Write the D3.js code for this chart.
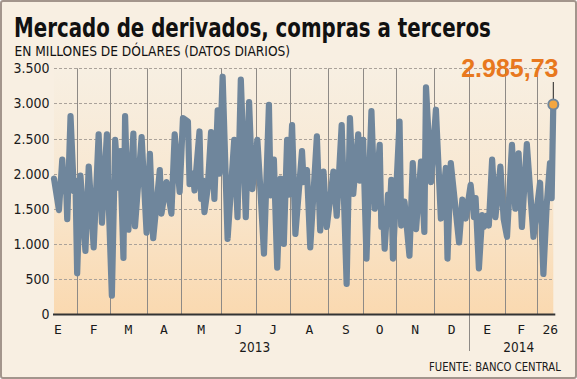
<!DOCTYPE html>
<html>
<head>
<meta charset="utf-8">
<script src="https://cdn.jsdelivr.net/npm/d3@7"></script>
<style>
  body { margin: 0; background: #fff; }
  svg { display: block; }
</style>
</head>
<body>
<div id="chart"></div>
<script>
// trading-day index (0 = first day shown) and value, in millions of dollars
const days = [0, 3, 5, 6, 7, 8, 10, 12, 13, 14, 16, 19, 21, 24, 27, 29, 32, 33, 35, 37,
  39, 40, 42, 43, 45, 48, 49, 53, 56, 58, 60, 64, 65, 68, 71, 73, 76, 78, 81, 82,
  84, 85, 88, 89, 90, 91, 93, 95, 97, 99, 100, 102, 105, 109, 111, 113, 116, 118, 120, 123,
  125, 127, 130, 131, 133, 135, 137, 139, 141, 142, 144, 146, 150, 151, 153, 155, 159, 161, 163, 165,
  169, 171, 174, 177, 179, 181, 184, 185, 187, 189, 192, 194, 197, 198, 199, 200, 202, 203, 204, 205,
  209, 210, 212, 215, 217, 219, 222, 224, 225, 228, 231, 234, 237, 238, 240, 245, 247, 249, 252, 254,
  255, 257, 259, 260, 262, 263, 265, 267, 270, 272, 274, 277, 279, 281, 283, 286, 290, 294, 296, 298,
  300, 301, 302]
const values = [1930, 1480, 2200, 1750, 2050, 1350, 2820, 1750, 1900, 580, 1970, 900, 2100, 950, 2560, 1300, 2560, 1650, 260, 2480,
  1800, 2320, 800, 2820, 1200, 2570, 1250, 2520, 1160, 2280, 1080, 2050, 1430, 1880, 1430, 2560, 1740, 2790, 2740, 1850,
  2000, 1760, 2600, 1640, 1900, 1450, 1800, 2590, 1640, 2900, 2000, 3380, 1070, 2480, 1380, 3340, 1380, 3020, 1780, 2480,
  1710, 860, 2980, 1690, 2200, 660, 1930, 1000, 2480, 1700, 2690, 1140, 2320, 1880, 2050, 950, 2530, 1190, 2030, 1240,
  2030, 1400, 2690, 430, 2790, 1710, 2560, 1900, 2480, 790, 2890, 1500, 2410, 1240, 1500, 930, 1700, 1400, 1910, 790,
  2740, 1260, 1600, 830, 2150, 1210, 2170, 1170, 3230, 1880, 2910, 1360, 2080, 790, 2150, 1020, 1630, 1360, 1840, 1380,
  1650, 650, 1410, 1240, 1400, 1260, 2200, 1380, 2100, 1350, 1100, 2410, 1500, 2290, 1240, 2420, 1100, 1870, 570, 1550,
  2150, 1650, 2985.73]

// first trading day of each month (Feb 2013 ... Mar 2014)
const monthStarts = [14, 34, 56, 77, 101, 122, 143, 166, 187, 207, 230, 251, 273, 292]
const lastDay = 302
const monthLabels = ['E', 'F', 'M', 'A', 'M', 'J', 'J', 'A', 'S', 'O', 'N', 'D', 'E', 'F', '26']
const years = ['2013', '2014']
const yearFirstMonth = [0, 12]
const yTicks = [0, 500, 1000, 1500, 2000, 2500, 3000, 3500]
const lastLabel = '2.985,73'

const width = 577
const height = 379

const x = d3.scaleLinear().domain([0, lastDay]).range([54, 553.3])
const y = d3.scaleLinear().domain([0, 3500]).range([314, 68.3])

const fmt = d3.formatLocale({decimal: ',', thousands: '.', grouping: [3], currency: ['', '']}).format(',')

const svg = d3.select('#chart')
    .append('svg')
    .attr('width', width)
    .attr('height', height)

const defs = svg.append('defs')
const grad = defs.append('linearGradient')
    .attr('id', 'plotbg')
    .attr('x1', 0).attr('y1', 0).attr('x2', 0).attr('y2', 1)
grad.append('stop').attr('offset', '0%').attr('stop-color', '#f7efe2')
grad.append('stop').attr('offset', '45%').attr('stop-color', '#f8e8d2')
grad.append('stop').attr('offset', '100%').attr('stop-color', '#fad9b0')

// squeeze a text horizontally so it spans the given width
function fitWidth (sel, left, target) {
    const w = sel.node().getComputedTextLength()
    const k = target / w
    sel.attr('x', 0).attr('transform', `translate(${left},0) scale(${k},1)`)
}

// card
svg.append('rect')
    .attr('x', 1).attr('y', 1)
    .attr('width', width - 2).attr('height', height - 2)
    .attr('rx', 2)
    .attr('fill', '#f8efe2')
    .attr('stroke', '#a3958c')
    .attr('stroke-width', 2)

// titles
const title = svg.append('text')
    .attr('y', 37)
    .attr('font-family', '"DejaVu Sans Condensed", "DejaVu Sans", sans-serif')
    .attr('font-weight', 'bold')
    .attr('font-size', 27)
    .attr('fill', '#111')
    .text('Mercado de derivados, compras a terceros')
fitWidth(title, 14, 477)

const subtitle = svg.append('text')
    .attr('y', 56)
    .attr('font-family', '"DejaVu Sans Condensed", "DejaVu Sans", sans-serif')
    .attr('font-size', 14)
    .attr('fill', '#111')
    .text('EN MILLONES DE DÓLARES (DATOS DIARIOS)')
fitWidth(subtitle, 14.5, 276)

// plot background
svg.append('rect')
    .attr('x', x(0)).attr('y', y(3500))
    .attr('width', x(lastDay) - x(0)).attr('height', y(0) - y(3500))
    .attr('fill', 'url(#plotbg)')

// horizontal dashed grid
svg.selectAll('line.hgrid')
    .data(yTicks.filter(d => d > 0))
    .enter()
    .append('line')
    .attr('class', 'hgrid')
    .attr('x1', x(0)).attr('x2', x(lastDay))
    .attr('y1', d => Math.round(y(d)) + 0.5).attr('y2', d => Math.round(y(d)) + 0.5)
    .attr('stroke', '#aaa29a')
    .attr('stroke-dasharray', '3,2')

// month lines
svg.selectAll('line.vgrid')
    .data(monthStarts)
    .enter()
    .append('line')
    .attr('class', 'vgrid')
    .attr('x1', d => Math.round(x(d)) + 0.5).attr('x2', d => Math.round(x(d)) + 0.5)
    .attr('y1', y(3500))
    .attr('y2', (d, i) => i === 11 ? 351 : y(0))
    .attr('stroke', '#8e8a86')

// y labels
svg.selectAll('text.ylab')
    .data(yTicks)
    .enter()
    .append('text')
    .attr('class', 'ylab')
    .attr('x', 49.5)
    .attr('y', d => y(d))
    .attr('dy', '0.36em')
    .attr('text-anchor', 'end')
    .attr('font-family', '"DejaVu Sans Condensed", "DejaVu Sans", sans-serif')
    .attr('font-size', 14)
    .attr('fill', '#1a1a1a')
    .text(d => fmt(d))

// the series
const line = d3.line()
    .x((d, i) => x(days[i]))
    .y(d => y(d))

svg.append('path')
    .datum(values)
    .attr('d', line)
    .attr('fill', 'none')
    .attr('stroke', '#6f869c')
    .attr('stroke-width', 6.2)
    .attr('stroke-linejoin', 'round')
    .attr('stroke-linecap', 'round')

// x axis line
svg.append('line')
    .attr('x1', x(0) - 1).attr('x2', x(lastDay) + 2)
    .attr('y1', y(0) + 0.5).attr('y2', y(0) + 0.5)
    .attr('stroke', '#333')
    .attr('stroke-width', 2)

// month labels
const bounds = [0].concat(monthStarts, [lastDay])
const labelX = monthLabels.map((m, i) => {
    if (i === 0) return x(0) + 4
    if (i === monthLabels.length - 1) return x(lastDay) - 3
    return (x(bounds[i]) + x(bounds[i + 1])) / 2
})

svg.selectAll('text.mlab')
    .data(monthLabels)
    .enter()
    .append('text')
    .attr('class', 'mlab')
    .attr('x', (d, i) => labelX[i])
    .attr('y', 334)
    .attr('text-anchor', 'middle')
    .attr('font-family', '"DejaVu Sans Mono", monospace')
    .attr('font-size', 13)
    .attr('fill', '#1a1a1a')
    .text(d => d)

svg.selectAll('text.year')
    .data(years)
    .enter()
    .append('text')
    .attr('class', 'year')
    .attr('x', (d, i) => {
        const a = yearFirstMonth[i]
        const b = i + 1 < years.length ? yearFirstMonth[i + 1] - 1 : monthLabels.length - 1
        return (labelX[a] + labelX[b]) / 2
    })
    .attr('y', 352)
    .attr('text-anchor', 'middle')
    .attr('font-family', '"DejaVu Sans Condensed", "DejaVu Sans", sans-serif')
    .attr('font-size', 13.5)
    .attr('fill', '#1a1a1a')
    .text(d => d)

// last value callout
const lastX = x(days[days.length - 1])
const lastY = y(values[values.length - 1])

svg.append('line')
    .attr('x1', lastX).attr('x2', lastX)
    .attr('y1', 82).attr('y2', lastY - 5)
    .attr('stroke', '#222')
    .attr('stroke-width', 1)

svg.append('circle')
    .attr('cx', lastX).attr('cy', lastY)
    .attr('r', 5)
    .attr('fill', '#f3a640')
    .attr('stroke', '#6f869c')
    .attr('stroke-width', 2)

svg.append('text')
    .attr('x', 558.5).attr('y', 77)
    .attr('text-anchor', 'end')
    .attr('font-family', '"Liberation Sans", Arial, sans-serif')
    .attr('font-weight', 'bold')
    .attr('font-size', 25)
    .attr('fill', '#e8781e')
    .text(lastLabel)

const source = svg.append('text')
    .attr('y', 371)
    .attr('font-family', '"DejaVu Sans Condensed", "DejaVu Sans", sans-serif')
    .attr('font-size', 12.5)
    .attr('fill', '#1a1a1a')
    .text('FUENTE: BANCO CENTRAL')
fitWidth(source, 429, 132)
</script>
</body>
</html>
